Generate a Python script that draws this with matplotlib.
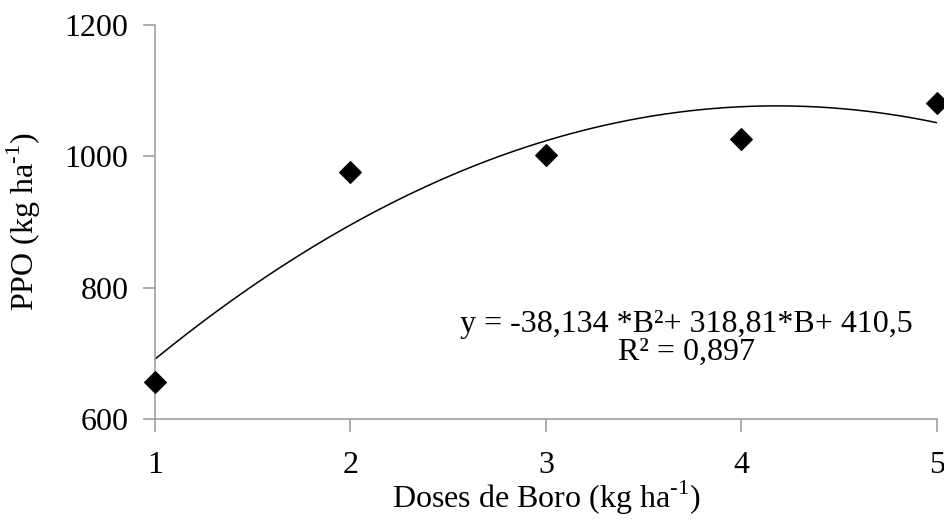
import numpy as np
import matplotlib.pyplot as plt

plt.rcParams['font.family'] = ['Liberation Serif', 'DejaVu Serif']
plt.rcParams['mathtext.fontset'] = 'custom'
plt.rcParams['mathtext.rm'] = 'Liberation Serif'

# data
doses = [1, 2, 3, 4, 5]
ppo = [656, 976, 1002, 1026, 1081]
# regression shown on the chart: y = a*B^2 + b*B + c
coef = [-38.134, 318.81, 410.5]
y_ticks = [600, 800, 1000, 1200]
x_ticks = [1, 2, 3, 4, 5]

fig = plt.figure(figsize=(9.45, 5.2), dpi=100)
ax = fig.add_axes([155 / 945, 1 - 419 / 520, (937 - 155) / 945, (419 - 25) / 520])

xs = np.linspace(1, 5, 200)
ax.plot(xs, np.polyval(coef, xs), color='black', lw=1.1)
ax.scatter(doses, ppo, marker='D', s=120, color='black', zorder=3, clip_on=False)

ax.set_xlim(1, 5)
ax.set_ylim(600, 1200)
ax.set_xticks(x_ticks)
ax.set_yticks(y_ticks)
for s in ['top', 'right']:
    ax.spines[s].set_visible(False)
for s in ['left', 'bottom']:
    ax.spines[s].set_color('#a0a0a0')
    ax.spines[s].set_linewidth(1.2)
ax.tick_params(colors='#a0a0a0', labelcolor='black', labelsize=23, length=9, width=1.2)
ax.tick_params(axis='x', pad=14)
ax.tick_params(axis='y', pad=10)

unit = r'(kg ha$^{\text{-1}}$)'
ax.set_xlabel('Doses de Boro ' + unit, fontsize=23, labelpad=-1)
ax.set_ylabel('PPO ' + unit, fontsize=23)
ax.yaxis.set_label_coords(-0.143, 0.5)

ax.text(0.68, 0.205, 'y = -38,134 *B²+ 318,81*B+ 410,5\nR² = 0,897',
        transform=ax.transAxes, ha='center', va='center', fontsize=23,
        linespacing=0.95)

fig.savefig('out.png', dpi=100)
